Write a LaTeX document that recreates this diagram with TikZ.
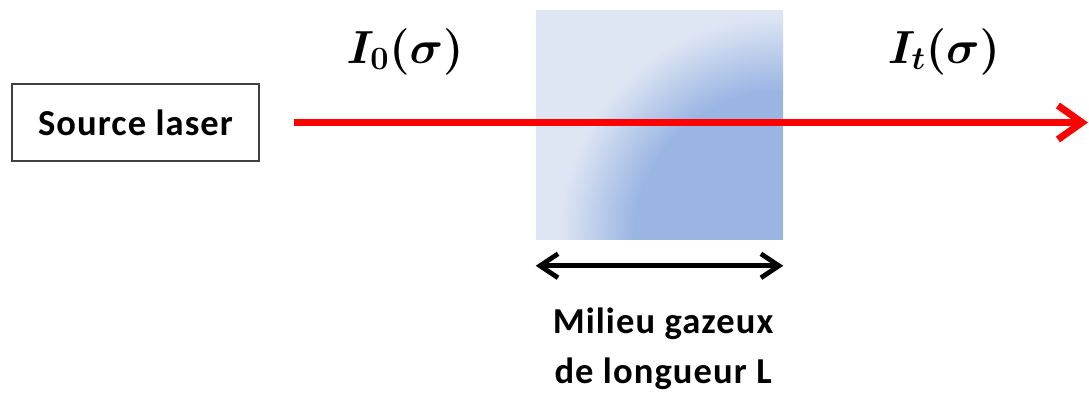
\RequirePackage{fix-cm}
\documentclass[tikz,border=0pt]{standalone}
\usepackage{amsmath}
\usepackage{fontspec}
\newfontfamily\calib[LetterSpace=3]{Carlito}
\usetikzlibrary{arrows.meta,positioning}
\definecolor{laserred}{RGB}{255,0,0}
\definecolor{gazdark}{RGB}{155,181,227}
\definecolor{gazlight}{RGB}{222,230,243}
\pgfdeclareradialshading{gazshade}{\pgfpointorigin}{color(0bp)=(gazdark); color(11bp)=(gazdark); color(16.5bp)=(gazlight); color(50bp)=(gazlight)}
\tikzset{
  boite/.style={draw=black!75, line width=0.35mm, minimum width=6.175cm, minimum height=1.925cm, inner sep=0pt, font=\calib\bfseries\fontsize{26}{30}\selectfont},
  faisceau/.style={draw=laserred, line width=1.75mm, -{Straight Barb[length=6mm,width=8.5mm]}},
  cote/.style={line width=1.2mm, {Straight Barb[length=4.5mm,width=6mm]}-{Straight Barb[length=4.5mm,width=6mm]}},
  intensite/.style={anchor=base, font=\fontsize{33}{38}\selectfont},
  legende/.style={align=center, anchor=base, font=\calib\bfseries\fontsize{26}{35.6}\selectfont},
}
\begin{document}
\begin{tikzpicture}
  \useasboundingbox (0,0) rectangle (27.225,9.8);
  % source et milieu
  \node[boite] (source) at (3.3875,6.7375) {Source laser};
  \node[minimum width=6.175cm, minimum height=5.725cm, inner sep=0pt,
        path picture={\shade[shading=gazshade] (path picture bounding box.south east) ++(-8.5cm,-8.5cm) rectangle ++(17cm,17cm);}] (gaz) at (16.4875,6.675) {};
  % faisceau laser
  \coordinate (fin) at (27.2,6.7375);
  \draw[faisceau] ([xshift=8.5mm]source.east) -- (fin);
  \node[intensite] (i0) at (10.125,8.225) {$\boldsymbol{I_0(\sigma)}$};
  \node[intensite] (it) at (23.6,8.225) {$\boldsymbol{I_t(\sigma)}$};
  % longueur du milieu
  \coordinate (cg) at ([yshift=-6.5mm]gaz.south west);
  \coordinate (cd) at ([yshift=-6.5mm]gaz.south east);
  \draw[cote] (cg) -- (cd);
  \node[legende] (texte) at ([xshift=0.9mm,yshift=-36mm]gaz.south) {Milieu gazeux\\de longueur L};
\end{tikzpicture}
\end{document}
